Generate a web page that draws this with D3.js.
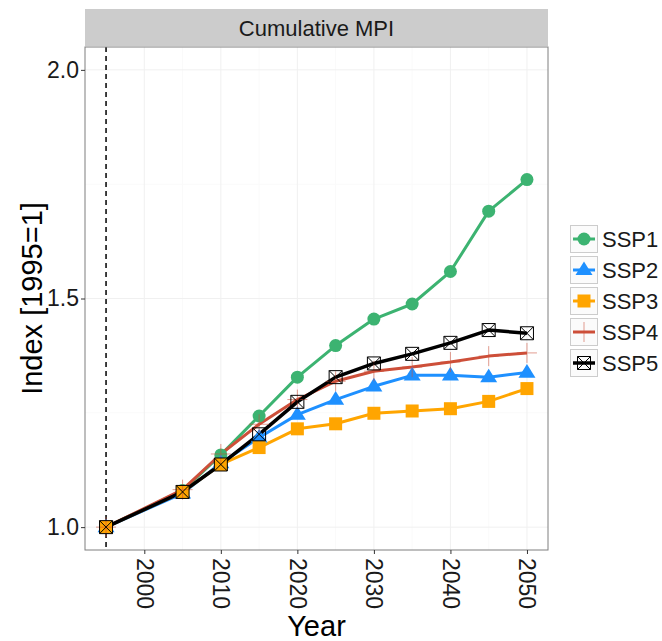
<!DOCTYPE html>
<html>
<head>
<meta charset="utf-8">
<script src="https://cdn.jsdelivr.net/npm/d3@7"></script>
<style>
  body { margin: 0; background: #fff; }
  text { font-family: "Liberation Sans", Arial, sans-serif; }
</style>
</head>
<body>
<div class="chart"></div>
<script>
var svgWidth = 662;
var svgHeight = 641;

// panel box
var margin = { top: 47, right: 114, bottom: 91, left: 85 };
var width = svgWidth - margin.left - margin.right;
var height = svgHeight - margin.top - margin.bottom;

// data
var years = [1995, 2005, 2010, 2015, 2020, 2025, 2030, 2035, 2040, 2045, 2050];
var scenarios = ["SSP1", "SSP2", "SSP3", "SSP4", "SSP5"];
var ssp1 = [1.0, 1.080, 1.158, 1.243, 1.328, 1.397, 1.455, 1.488, 1.559, 1.691, 1.760];
var ssp2 = [1.0, 1.074, 1.140, 1.196, 1.246, 1.279, 1.308, 1.332, 1.332, 1.328, 1.338];
var ssp3 = [1.0, 1.077, 1.137, 1.174, 1.215, 1.226, 1.249, 1.254, 1.259, 1.275, 1.303];
var ssp4 = [1.0, 1.082, 1.160, 1.225, 1.279, 1.319, 1.341, 1.350, 1.361, 1.374, 1.381];
var ssp5 = [1.0, 1.077, 1.137, 1.203, 1.274, 1.328, 1.358, 1.379, 1.403, 1.431, 1.424];
var seriesValues = [ssp1, ssp2, ssp3, ssp4, ssp5];
var xTicks = [2000, 2010, 2020, 2030, 2040, 2050];
var yTicks = [1.0, 1.5, 2.0];
var colors = ["#3CB371", "#1E90FF", "#FFA500", "#CD4F39", "#000000"];
var shapes = ["circle", "triangle", "square", "plus", "boxx"];

var svg = d3.select(".chart")
  .append("svg")
  .attr("width", svgWidth)
  .attr("height", svgHeight);

var chartGroup = svg.append("g")
  .attr("transform", `translate(${margin.left}, ${margin.top})`);

var xScale = d3.scaleLinear()
  .domain([1992.25, 2052.75])
  .range([0, width]);

var yScale = d3.scaleLinear()
  .domain([0.95, 2.05])
  .range([height, 0]);

// strip on top of the panel
svg.append("rect")
  .attr("x", margin.left)
  .attr("y", 9)
  .attr("width", width)
  .attr("height", margin.top - 10)
  .attr("fill", "#cccccc");
svg.append("text")
  .attr("x", margin.left + width / 2)
  .attr("y", 9 + (margin.top - 10) / 2 + 8)
  .attr("text-anchor", "middle")
  .attr("font-size", "22px")
  .attr("fill", "#1a1a1a")
  .text("Cumulative MPI");

// grid lines
var minorX = [2005, 2015, 2025, 2035, 2045];
var minorY = [1.25, 1.75];
chartGroup.selectAll(".gx-minor").data(minorX).enter().append("line")
  .attr("x1", d => xScale(d)).attr("x2", d => xScale(d))
  .attr("y1", 0).attr("y2", height)
  .attr("stroke", "#fafafa").attr("stroke-width", 1);
chartGroup.selectAll(".gy-minor").data(minorY).enter().append("line")
  .attr("x1", 0).attr("x2", width)
  .attr("y1", d => yScale(d)).attr("y2", d => yScale(d))
  .attr("stroke", "#fafafa").attr("stroke-width", 1);
chartGroup.selectAll(".gx").data(xTicks).enter().append("line")
  .attr("x1", d => xScale(d)).attr("x2", d => xScale(d))
  .attr("y1", 0).attr("y2", height)
  .attr("stroke", "#f0f0f0").attr("stroke-width", 1);
chartGroup.selectAll(".gy").data(yTicks).enter().append("line")
  .attr("x1", 0).attr("x2", width)
  .attr("y1", d => yScale(d)).attr("y2", d => yScale(d))
  .attr("stroke", "#f0f0f0").attr("stroke-width", 1);

// dashed reference line at 1995
chartGroup.append("line")
  .attr("x1", xScale(1995)).attr("x2", xScale(1995))
  .attr("y1", 0).attr("y2", height)
  .attr("stroke", "#000")
  .attr("stroke-width", 1.5)
  .attr("stroke-dasharray", "5,4");

// lines
var line = d3.line()
  .x((d, i) => xScale(years[i]))
  .y(d => yScale(d));

seriesValues.forEach(function(vals, s) {
  chartGroup.append("path")
    .datum(vals)
    .attr("d", line)
    .attr("fill", "none")
    .attr("stroke", colors[s])
    .attr("stroke-width", s === 4 ? 3.5 : 3)
    .attr("stroke-linejoin", "round");
});

// point shapes
function drawShape(g, shape, color, cx, cy) {
  if (shape === "circle") {
    g.append("circle").attr("cx", cx).attr("cy", cy).attr("r", 6.5).attr("fill", color);
  } else if (shape === "triangle") {
    var s = 8.5;
    g.append("path")
      .attr("d", `M${cx},${cy - s}L${cx + s},${cy + s * 0.6}L${cx - s},${cy + s * 0.6}Z`)
      .attr("fill", color);
  } else if (shape === "square") {
    g.append("rect").attr("x", cx - 6.5).attr("y", cy - 6.5)
      .attr("width", 13).attr("height", 13).attr("fill", color);
  } else if (shape === "plus") {
    var p = 10;
    g.append("path")
      .attr("d", `M${cx - p},${cy}L${cx + p},${cy}M${cx},${cy - p}L${cx},${cy + p}`)
      .attr("stroke", color).attr("stroke-width", 1).attr("opacity", 0.55);
  } else {
    var b = 6.5;
    g.append("path")
      .attr("d", `M${cx - b},${cy - b}H${cx + b}V${cy + b}H${cx - b}Z` +
        `M${cx - b},${cy - b}L${cx + b},${cy + b}M${cx + b},${cy - b}L${cx - b},${cy + b}`)
      .attr("fill", "none").attr("stroke", color).attr("stroke-width", 1);
  }
}

seriesValues.forEach(function(vals, s) {
  var pg = chartGroup.append("g");
  vals.forEach(function(v, i) {
    drawShape(pg, shapes[s], colors[s], xScale(years[i]), yScale(v));
  });
});

// panel border
chartGroup.append("rect")
  .attr("width", width).attr("height", height)
  .attr("fill", "none").attr("stroke", "#7f7f7f").attr("stroke-width", 1);

// axes
var bottomAxis = d3.axisBottom(xScale).tickValues(xTicks).tickSize(4).tickFormat(d3.format("d"));
var leftAxis = d3.axisLeft(yScale).tickValues(yTicks).tickSize(4).tickFormat(d3.format(".1f"));

var xAxis = chartGroup.append("g")
  .attr("transform", `translate(0, ${height})`)
  .call(bottomAxis);
xAxis.select(".domain").remove();
xAxis.selectAll("line").attr("stroke", "#333").attr("stroke-width", 1);
xAxis.selectAll("text")
  .attr("font-size", "23px")
  .attr("fill", "#1a1a1a")
  .attr("transform", "rotate(90)")
  .attr("text-anchor", "start")
  .attr("x", 8)
  .attr("y", 0)
  .attr("dy", "0.35em");

var yAxis = chartGroup.append("g").call(leftAxis);
yAxis.select(".domain").remove();
yAxis.selectAll("line").attr("stroke", "#333").attr("stroke-width", 1);
yAxis.selectAll("text")
  .attr("font-size", "23px")
  .attr("fill", "#1a1a1a")
  .attr("x", -6);

// axis titles
svg.append("text")
  .attr("x", margin.left + width / 2)
  .attr("y", 636)
  .attr("text-anchor", "middle")
  .attr("font-size", "29px")
  .text("Year");

svg.append("text")
  .attr("transform", `translate(42, ${margin.top + height / 2}) rotate(-90)`)
  .attr("text-anchor", "middle")
  .attr("font-size", "29px")
  .text("Index [1995=1]");

// legend
var legend = svg.append("g").attr("transform", "translate(570, 225)");
scenarios.forEach(function(name, s) {
  var ly = s * 31;
  var kg = legend.append("g");
  kg.append("rect")
    .attr("x", 0.5).attr("y", ly + 0.5)
    .attr("width", 27).attr("height", 27)
    .attr("fill", "#fbfbfb").attr("stroke", "#cccccc");
  kg.append("line")
    .attr("x1", 3).attr("x2", 25)
    .attr("y1", ly + 14).attr("y2", ly + 14)
    .attr("stroke", colors[s]).attr("stroke-width", s === 4 ? 3.5 : 3);
  drawShape(kg, shapes[s], colors[s], 14, ly + 14);
  legend.append("text")
    .attr("x", 32)
    .attr("y", ly + 22)
    .attr("font-size", "22px")
    .attr("fill", "#1a1a1a")
    .text(name);
});
</script>
</body>
</html>
